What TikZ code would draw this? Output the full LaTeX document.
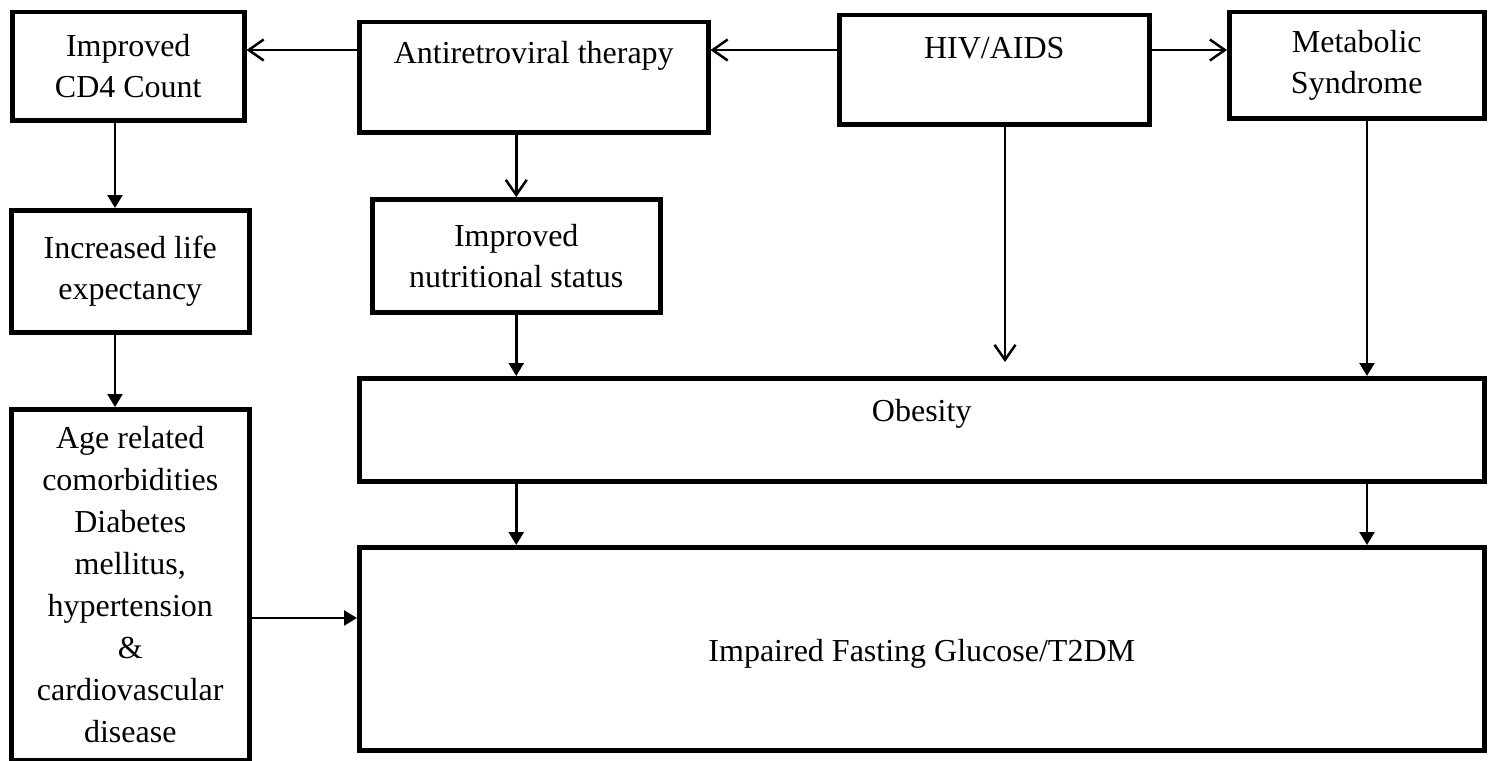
\documentclass[tikz,border=0pt]{standalone}
\usepackage{fontspec}
\setmainfont{Liberation Serif}
\usetikzlibrary{arrows.meta,positioning,calc}
\tikzset{
	box/.style={draw, line width=4.5pt, align=center, inner sep=0pt,
		anchor=north west, font=\fontsize{32}{41}\selectfont},
	opentip/.style={-{Straight Barb[length=15pt,width=21pt,line width=2.5pt]}, line width=2.5pt},
	shuttip/.style={-{Triangle[length=13pt,width=15pt]}, line width=2.5pt},
}

\begin{document}
\begin{tikzpicture}[x=1pt,y=-1pt]
	\useasboundingbox (0,0) rectangle (1490,760);
	% top row
	\node[box, minimum width=232, minimum height=108] (cd4) at (10,10) {Improved\\CD4 Count};
	\node[box, minimum width=349, minimum height=110, text height=41pt, text depth=69pt] (art) at (357,20) {Antiretroviral therapy};
	\node[box, minimum width=310, minimum height=109, text height=43pt, text depth=66pt] (hiv) at (837,13) {HIV/AIDS};
	\node[box, minimum width=255, minimum height=106] (mets) at (1227,10) {Metabolic\\Syndrome};
	% middle
	\node[box, minimum width=238, minimum height=122] (life) at (9,208) {Increased life\\expectancy};
	\node[box, minimum width=288, minimum height=113] (nut) at (370,197) {Improved\\nutritional status};
	\node[box, minimum width=1125, minimum height=103, text height=43pt, text depth=60pt] (obesity) at (357,376) {Obesity};
	% bottom
	\node[box, minimum width=238, minimum height=351, font=\fontsize{32}{42}\selectfont] (age) at (9,407) {Age related\\comorbidities\\Diabetes\\mellitus,\\hypertension\\\&\\cardiovascular\\disease};
	\node[box, minimum width=1125, minimum height=203, text height=114pt, text depth=89pt] (imp) at (357,545) {Impaired Fasting Glucose/T2DM};

	\coordinate (row) at (0,50);
	\coordinate (side) at (0,618);
	\coordinate (leftx) at (115,0);
	\coordinate (hivx) at (1005,0);
	\coordinate (metx) at (1367,0);
	\draw[opentip] (art.west |- row) -- (cd4.east |- row);
	\draw[opentip] (hiv.west |- row) -- (art.east |- row);
	\draw[opentip] (hiv.east |- row) -- (mets.west |- row);
	\draw[opentip] (nut.north |- art.south) -- (nut.north);
	\draw[opentip] (hiv.south -| hivx) -- ($(obesity.north -| hivx)+(0,-14)$);
	\draw[shuttip] (cd4.south -| leftx) -- (life.north -| leftx);
	\draw[shuttip] (life.south -| leftx) -- (age.north -| leftx);
	\draw[shuttip] (nut.south) -- (obesity.north -| nut.south);
	\draw[shuttip] (mets.south -| metx) -- (obesity.north -| metx);
	\draw[shuttip] (obesity.south -| nut.south) -- (imp.north -| nut.south);
	\draw[shuttip] (obesity.south -| metx) -- (imp.north -| metx);
	\draw[shuttip] (age.east |- side) -- (imp.west |- side);
\end{tikzpicture}
\end{document}
